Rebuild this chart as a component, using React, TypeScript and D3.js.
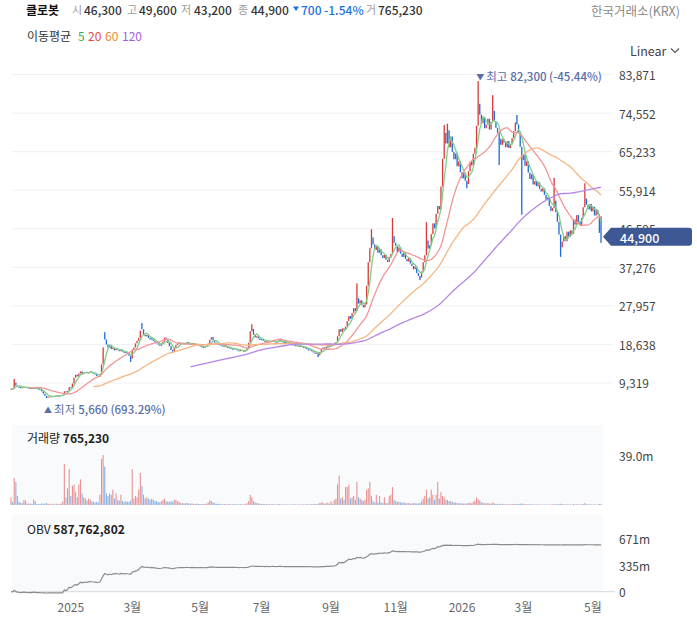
import React from 'react';
import * as d3 from 'd3';

const FONT = "'Noto Sans CJK KR', 'Noto Sans', sans-serif";

const stockName = '클로봇';
const exchangeName = '한국거래소(KRX)';
const scaleMode = 'Linear';
const maTitle = '이동평균';
const maPeriods = [5, 20, 60, 120];
const maLineColors = ['#7fcf88', '#f19696', '#f5b580', '#b585e8'];
const maLegendColors = ['#3fae49', '#e5484d', '#f08a30', '#a25ddc'];

const holidays = [
  '2024-12-25', '2024-12-31', '2025-01-01', '2025-01-27', '2025-01-28', '2025-01-29', '2025-01-30',
  '2025-03-03', '2025-05-01', '2025-05-05', '2025-05-06', '2025-06-03', '2025-06-06', '2025-08-15',
  '2025-10-03', '2025-10-06', '2025-10-07', '2025-10-08', '2025-10-09', '2025-12-25', '2025-12-31',
  '2026-01-01', '2026-02-16', '2026-02-17', '2026-02-18', '2026-03-02', '2026-05-01', '2026-05-05',
];
const visibleFrom = 8;

const closes = [
  7700, 7650, 7800, 7750, 7700, 7800, 7750, 7850, 7950, 7900,
  9400, 8700, 8400, 8300, 8200, 8250, 8350, 8300, 8200, 8050,
  8100, 8000, 8150, 8100, 7950, 7800, 7700, 7300, 6700, 6200,
  5850, 6000, 6100, 6050, 6200, 6150, 6300, 6250, 6200, 6350,
  6400, 7300, 7150, 7400, 8300, 8200, 9200, 10600, 11300, 10900,
  11600, 12100, 11500, 11800, 12000, 11700, 11900, 12100, 11800, 11600,
  11400, 11000, 10800, 11400, 13800, 17900, 19800, 18600, 17900, 18400,
  17500, 17800, 17200, 17600, 17300, 17000, 17400, 16900, 16600, 16800,
  16300, 15900, 15200, 17400, 17900, 18900, 19500, 20200, 22000, 22300,
  21000, 20600, 20900, 20200, 19800, 20100, 19500, 19200, 18900, 18600,
  18300, 18700, 19300, 20300, 19800, 19000, 18200, 17300, 16900, 17800,
  18500, 18900, 19100, 18800, 19000, 18700, 18900, 19200, 18800, 18600,
  18900, 18700, 18500, 18700, 18400, 18200, 18000, 17900, 18100, 18300,
  18900, 19800, 20400, 19600, 19100, 18800, 18500, 18700, 18300, 18100,
  18400, 18000, 17800, 17900, 17600, 17400, 17700, 17500, 17200, 17000,
  17300, 17100, 16900, 17200, 17800, 19000, 21800, 22400, 21000, 20300,
  20600, 20100, 19700, 19900, 19500, 19300, 19600, 19400, 19200, 19400,
  19600, 19300, 19100, 19500, 19800, 19400, 19200, 19000, 19300, 19100,
  18900, 18700, 18400, 18600, 18200, 18400, 18100, 18300, 18000, 17800,
  17900, 17500, 17200, 17400, 17000, 16700, 16400, 16600, 16000, 16800,
  17500, 17900, 17600, 18100, 18400, 18200, 18700, 18500, 18900, 19200,
  20600, 22300, 21700, 22500, 22100, 22900, 24300, 25500, 24800, 26200,
  27400, 26700, 29800, 28500, 29300, 28200, 27600, 28300, 32800, 38500,
  41900, 44500, 42800, 41500, 42300, 40800, 41600, 40200, 39500, 40300,
  39100, 38600, 39800, 40500, 44800, 43200, 42500, 41000, 42100, 40600,
  39800, 40900, 39300, 38700, 39500, 38200, 37600, 36800, 37500, 35900,
  35200, 34800, 36300, 38500, 40200, 43800, 41800, 42600, 45300, 47900,
  46700, 50200, 52100, 51300, 56800, 63500, 69800, 67200, 70400, 66300,
  68900, 65200, 63400, 64800, 61700, 62900, 60300, 58800, 60100, 58200,
  57400, 60500, 62800, 61900, 64700, 66200, 71500, 76800, 74200, 72100,
  73600, 70900, 71800, 73200, 70600, 72400, 75100, 72600, 71000, 69800,
  68400, 66900, 68200, 67400, 66300, 67800, 66100, 67000, 68500, 70200,
  72300, 71800, 69900, 66400, 63200, 64500, 61800, 62900, 60200, 58600,
  59800, 57300, 58100, 56900, 57800, 56200, 55600, 56400, 54800, 53600,
  54200, 52100, 50900, 51600, 53400, 50600, 48300, 45200, 42100, 43500,
  44800, 43600, 45900, 44700, 46200, 45400, 48800, 47600, 49900, 48300,
  47500, 49200, 51800, 53900, 52400, 51300, 52600, 50800, 51900, 49800,
  51200, 50100, 45600, 44900,
];

// volume in millions of shares
const volumesM = [
  2.0, 1.5, 2.2, 1.4, 1.3, 1.8, 1.2, 2.0, 6.0, 2.5,
  21, 18, 7, 2.5, 1.8, 1.5, 4, 3.5, 1.2, 1.0,
  1.1, 0.9, 4.2, 3.0, 0.8, 0.7, 0.6, 1.2, 1.0, 1.1,
  1.5, 0.9, 0.8, 0.5, 1.0, 0.6, 1.1, 0.7, 0.6, 1.0,
  2.8, 32, 6, 13, 28, 7, 15, 16, 10, 6,
  16, 20, 9, 6, 5, 3.5, 5, 4.5, 3, 2.5,
  2, 2.5, 2, 8, 36, 39, 30, 9, 7, 9,
  8, 12, 5, 9, 4, 3.5, 8, 3, 2.5, 3,
  2.5, 2.5, 3.5, 28, 5, 7, 6, 12, 25, 15,
  8, 5, 6, 5, 4, 5, 4, 3, 3, 2.5,
  2, 3, 4, 5, 3, 2.5, 2.5, 3, 2.5, 4,
  4, 3, 2.5, 1.5, 1.5, 1.2, 1.3, 1.6, 1.2, 1.0,
  1.2, 0.9, 0.8, 1.0, 0.8, 0.7, 0.8, 0.6, 0.8, 1.0,
  2.0, 3.5, 3.0, 2.0, 1.5, 1.0, 0.8, 0.9, 0.7, 0.6,
  0.8, 0.6, 0.6, 0.7, 0.6, 0.5, 0.7, 0.5, 0.5, 0.6,
  0.6, 0.5, 0.5, 0.7, 1.5, 3.0, 8.0, 6.0, 3.0, 2.0,
  1.5, 1.2, 1.0, 0.9, 0.8, 0.7, 0.8, 0.6, 0.6, 0.6,
  0.7, 0.5, 0.5, 0.6, 0.8, 0.5, 0.5, 0.4, 0.5, 0.4,
  0.4, 0.4, 0.5, 0.5, 0.5, 0.4, 0.4, 0.4, 0.4, 0.5,
  0.4, 0.6, 0.6, 0.5, 0.7, 0.7, 0.8, 0.6, 1.0, 1.5,
  2.0, 1.8, 1.0, 1.5, 1.8, 1.0, 3.0, 1.0, 4.0, 5.0,
  16, 23, 5, 6, 4, 14, 14, 16, 5, 6,
  7, 4, 18, 6, 5, 4, 3, 4, 12, 13,
  18, 7, 3, 2, 8, 2, 7, 2, 1.5, 6,
  1.5, 1.5, 7, 8, 14, 4, 3, 2.5, 2.5, 2,
  1.8, 2, 1.5, 1.5, 1.5, 1.2, 1.2, 1.5, 1.5, 1.2,
  1.2, 1.5, 3.0, 5, 7, 12, 5, 6, 12, 8,
  4, 8, 18, 5, 10, 7, 6, 4, 4, 3,
  3, 2.5, 2, 1.8, 1.6, 1.4, 1.3, 1.2, 1.2, 1.1,
  1.3, 1.5, 1.8, 1.2, 2.5, 3.5, 6, 4.5, 3.5, 2,
  1.8, 1.5, 1.2, 1.5, 1.2, 1.1, 2.0, 1.2, 0.9, 0.8,
  1.0, 0.8, 0.7, 0.6, 0.6, 0.6, 0.5, 0.5, 0.7, 0.8,
  0.9, 0.8, 0.7, 0.9, 1.3, 0.8, 0.7, 0.6, 0.6, 0.5,
  0.5, 0.5, 0.4, 0.4, 0.4, 0.4, 0.4, 0.3, 0.4, 0.4,
  0.3, 0.4, 0.4, 0.3, 0.8, 0.6, 0.6, 0.8, 1.0, 0.7,
  0.6, 0.5, 0.6, 0.4, 0.5, 0.4, 0.8, 0.5, 0.6, 0.5,
  0.4, 0.6, 0.9, 1.5, 0.7, 0.5, 0.5, 0.5, 0.4, 0.5,
  0.4, 0.4, 0.8, 0.76523,
];

// [day index, price]
const openMarks: [number, number][] = [[66, 20900], [89, 23200], [373, 46300]];
const highMarks: [number, number][] = [
  [10, 10300], [66, 21600], [89, 23800], [157, 23500], [222, 33400], [231, 46500], [244, 49200],
  [265, 48200], [276, 71700], [278, 72000], [297, 82300], [306, 78900], [321, 74100], [344, 58900],
  [363, 57600], [373, 49600],
];
const lowMarks: [number, number][] = [
  [30, 5660], [82, 14400], [198, 15600], [261, 34200], [290, 56400], [310, 62000], [324, 50000],
  [348, 39800], [373, 43200],
];

const priceTicks = [9319, 18638, 27957, 37276, 46595, 55914, 65233, 74552, 83871];
const volumeTicks = [39000000];
const volumeTickLabels = ['39.0m'];
const obvTicks = [0, 335000000, 671000000];
const obvTickLabels = ['0', '335m', '671m'];
const obvLast = 587762802;

const RED = '#d83a3c';
const BLUE = '#1f6bd1';
const VRED = '#e79294';
const VBLUE = '#86b2e6';
const MARK = '#5a6da6';

const fmtDay = d3.utcFormat('%Y-%m-%d');
const days = d3
  .utcDay.range(new Date(Date.UTC(2024, 9, 28)), new Date(Date.UTC(2026, 4, 13)))
  .filter((d) => d.getUTCDay() !== 0 && d.getUTCDay() !== 6 && !holidays.includes(fmtDay(d)));

const N = closes.length;
const opens = closes.map((c, i) => (i === 0 ? c : closes[i - 1]));
openMarks.forEach(([i, v]) => (opens[i] = v));
const highs = closes.map((c, i) => Math.max(c, opens[i]));
const lows = closes.map((c, i) => Math.min(c, opens[i]));
highMarks.forEach(([i, v]) => (highs[i] = Math.max(highs[i], v)));
lowMarks.forEach(([i, v]) => (lows[i] = Math.min(lows[i], v)));
const volumes = volumesM.map((v) => Math.round(v * 1e6));

const obv: number[] = [];
for (let i = 0; i < N; i++) {
  if (i <= visibleFrom) obv.push(0);
  else obv.push(obv[i - 1] + Math.sign(closes[i] - closes[i - 1]) * volumes[i]);
}

function movingAvg(n: number) {
  return closes.map((_, i) => (i < n - 1 ? null : (d3.mean(closes.slice(i - n + 1, i + 1)) as number)));
}

const fmt = d3.format(',');
const pctFmt = (v: number) => d3.format('.2f')(v).replace('−', '-');

export default function App() {
  const x = d3.scaleLinear().domain([visibleFrom, N - 1]).range([11, 601]);
  const yP = d3.scaleLinear().domain([0, 83871]).range([421.5, 74.6]);
  const yV = d3.scaleLinear().domain([0, 39000000]).range([505, 455]);
  const yO = d3.scaleLinear().domain([0, 671000000]).range([591.7, 538.3]);

  const idx = d3.range(visibleFrom, N);
  const last = N - 1;
  const change = closes[last] - closes[last - 1];
  const pct = (change / closes[last - 1]) * 100;

  const ticks: { i: number; label: string }[] = [];
  for (let i = visibleFrom; i < Math.min(N, days.length); i++) {
    const m = days[i].getUTCMonth();
    if (i > 0 && days[i - 1].getUTCMonth() !== m && m % 2 === 0) {
      ticks.push({ i, label: m === 0 ? String(days[i].getUTCFullYear()) : `${m + 1}월` });
    }
  }

  let hiI = visibleFrom;
  let loI = visibleFrom;
  idx.forEach((i) => {
    if (highs[i] > highs[hiI]) hiI = i;
    if (lows[i] < lows[loI]) loI = i;
  });
  const hiPct = ((closes[last] - highs[hiI]) / highs[hiI]) * 100;
  const loPct = ((closes[last] - lows[loI]) / lows[loI]) * 100;

  const maLines = maPeriods.map((p) => {
    const m = movingAvg(p);
    const line = d3
      .line<number>()
      .x((i) => x(i))
      .y((i) => yP(m[i] as number));
    const pts = idx.filter((i) => m[i] !== null);
    return line(pts) || '';
  });

  const obvPath =
    d3
      .line<number>()
      .x((i) => x(i))
      .y((i) => yO(obv[i]))(idx) || '';

  const header: { x: number; t: string; c: string; w?: number; s?: number }[] = [
    { x: 26, t: stockName, c: '#111', w: 700, s: 12 },
    { x: 72, t: '시', c: '#9a9a9a' },
    { x: 84, t: fmt(opens[last]), c: '#333', w: 500 },
    { x: 127, t: '고', c: '#9a9a9a' },
    { x: 139, t: fmt(highs[last]), c: '#333', w: 500 },
    { x: 181, t: '저', c: '#9a9a9a' },
    { x: 194, t: fmt(lows[last]), c: '#333', w: 500 },
    { x: 238, t: '종', c: '#9a9a9a' },
    { x: 251, t: fmt(closes[last]), c: '#333', w: 500 },
    { x: 301, t: fmt(Math.abs(change)), c: '#1d6fdc', w: 500 },
    { x: 324, t: `${pctFmt(pct)}%`, c: '#1d6fdc', w: 500 },
    { x: 366, t: '거', c: '#9a9a9a' },
    { x: 378, t: fmt(volumes[last]), c: '#333', w: 500 },
  ];

  const tagY = yP(closes[last]);

  return (
    <svg
      width={697}
      height={629}
      style={{ position: 'absolute', left: 0, top: 0, background: '#fff' }}
      fontFamily={FONT}
    >
      <defs>
        <clipPath id="plot">
          <rect x={10} y={60} width={595} height={363} />
        </clipPath>
      </defs>

      {header.map((h, k) => (
        <text
          key={k}
          x={h.x}
          y={9}
          dominantBaseline="central"
          fontSize={h.s || (h.w ? 12 : 11)}
          fill={h.c}
          fontWeight={h.w || 400}
        >
          {h.t}
        </text>
      ))}
      <path d="M293,6.5 L299,6.5 L296,11 Z" fill="#1d6fdc" />
      <text x={680} y={10.5} textAnchor="end" dominantBaseline="central" fontSize={12.5} fill="#8a8a8a">
        {exchangeName}
      </text>

      <text x={27} y={35} dominantBaseline="central" fontSize={12} fill="#333">
        {maTitle}
      </text>
      {maPeriods.map((p, k) => (
        <text key={p} x={[78, 88, 105, 122][k]} y={35} dominantBaseline="central" fontSize={12} fill={maLegendColors[k]}>
          {p}
        </text>
      ))}

      <text x={630} y={50} dominantBaseline="central" fontSize={12.5} fill="#444">
        {scaleMode}
      </text>
      <path d="M671,48.5 L675,52.5 L679,48.5" fill="none" stroke="#555" strokeWidth={1.1} />

      {priceTicks.map((t) => (
        <g key={t}>
          <line x1={12} x2={613} y1={yP(t)} y2={yP(t)} stroke="#eef0f3" strokeWidth={1} />
          <text x={619} y={yP(t)} dominantBaseline="central" fontSize={12} fill="#444">
            {fmt(t)}
          </text>
        </g>
      ))}

      <g clipPath="url(#plot)">
        {idx.map((i) => {
          const up = closes[i] >= opens[i];
          const col = up ? RED : BLUE;
          const top = yP(highs[i]);
          const bot = yP(lows[i]);
          return <rect key={i} x={x(i) - 0.65} y={top} width={1.3} height={Math.max(1, bot - top)} fill={col} />;
        })}
        {maLines.map((d, k) => (
          <path key={k} d={d} fill="none" stroke={maLineColors[k]} strokeWidth={1.3} />
        ))}
      </g>

      <text x={x(hiI) - 2} y={76} dominantBaseline="central" fontSize={11.5} fill={MARK}>
        <tspan fontSize={8}>▼</tspan>
        <tspan dx={2}>최고</tspan>
        <tspan dx={3} fontWeight={500}>{`${fmt(highs[hiI])} (${pctFmt(hiPct)}%)`}</tspan>
      </text>
      <text x={x(loI) - 2.5} y={409} dominantBaseline="central" fontSize={11.5} fill={MARK}>
        <tspan fontSize={8}>▲</tspan>
        <tspan dx={2}>최저</tspan>
        <tspan dx={3} fontWeight={500}>{`${fmt(lows[loI])} (${pctFmt(loPct)}%)`}</tspan>
      </text>

      <path
        d={`M603,${tagY + 1} L611,${tagY - 8} H689 Q692,${tagY - 8} 692,${tagY - 5} V${tagY + 7} Q692,${tagY + 10} 689,${tagY + 10} H611 Z`}
        fill="#3d5894"
      />
      <text x={620} y={tagY + 1.5} dominantBaseline="central" fontSize={12.5} fill="#fff" fontWeight={500}>
        {fmt(closes[last])}
      </text>

      <rect x={12} y={425} width={591} height={80} fill="#f9fafb" />
      {idx.map((i) => {
        const up = closes[i] >= opens[i];
        return (
          <rect
            key={i}
            x={x(i) - 0.55}
            y={yV(volumes[i])}
            width={1.1}
            height={505 - yV(volumes[i])}
            fill={up ? VRED : VBLUE}
          />
        );
      })}
      <text x={27} y={437} dominantBaseline="central" fontSize={12} fill="#222">
        거래량 <tspan fontWeight={700}>{fmt(volumes[last])}</tspan>
      </text>
      {volumeTicks.map((t, k) => (
        <text key={t} x={619} y={yV(t)} dominantBaseline="central" fontSize={12} fill="#444">
          {volumeTickLabels[k]}
        </text>
      ))}

      <rect x={12} y={515} width={591} height={77} fill="#f9fafb" />
      <line x1={12} x2={615} y1={yO(0)} y2={yO(0)} stroke="#d5d8dd" strokeWidth={1} />
      <path d={obvPath} fill="none" stroke="#8c8c8c" strokeWidth={1.2} />
      <text x={27} y={528} dominantBaseline="central" fontSize={12} fill="#222">
        OBV <tspan fontWeight={700}>{fmt(obvLast)}</tspan>
      </text>
      {obvTicks.map((t, k) => (
        <text key={t} x={619} y={yO(t)} dominantBaseline="central" fontSize={12} fill="#444">
          {obvTickLabels[k]}
        </text>
      ))}

      {ticks.map((t) => (
        <text key={t.i} x={x(t.i)} y={606} textAnchor="middle" dominantBaseline="central" fontSize={12} fill="#666">
          {t.label}
        </text>
      ))}
    </svg>
  );
}
